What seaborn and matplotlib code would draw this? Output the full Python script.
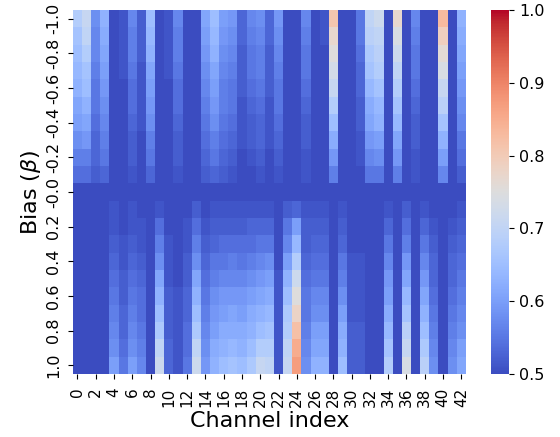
import numpy as np
import pandas as pd
import seaborn as sns
from matplotlib import pyplot as plt

# bias values (rows) and channel indices (columns)
bias = [-1.0, -0.9, -0.8, -0.7, -0.6, -0.5, -0.4, -0.3, -0.2, -0.1, -0.0,
        0.1, 0.2, 0.3, 0.4, 0.5, 0.6, 0.7, 0.8, 0.9, 1.0]
channels = list(range(43))

# score in percent, one list per channel, beta = -1.0 ... -0.1
neg_bias = [
    [68, 66, 65, 64, 63, 61, 60, 58, 56, 54],  # 0
    [71, 70, 68, 66, 65, 63, 61, 59, 56, 54],  # 1
    [58, 57, 57, 56, 55, 55, 54, 53, 53, 52],  # 2
    [63, 62, 61, 60, 59, 58, 57, 56, 55, 53],  # 3
    [50] * 10,                                 # 4
    [51, 51, 51, 51, 50, 50, 50, 50, 50, 50],  # 5
    [57, 56, 56, 55, 54, 54, 53, 52, 52, 51],  # 6
    [52, 52, 52, 51, 51, 51, 51, 50, 50, 50],  # 7
    [65, 64, 63, 61, 60, 59, 58, 56, 55, 53],  # 8
    [50] * 10,                                 # 9
    [51, 51, 51, 51, 50, 50, 50, 50, 50, 50],  # 10
    [57, 56, 56, 55, 54, 54, 53, 52, 52, 51],  # 11
    [50] * 10,                                 # 12
    [50] * 10,                                 # 13
    [61, 60, 59, 58, 57, 56, 55, 54, 53, 52],  # 14
    [65, 64, 63, 61, 60, 59, 58, 56, 55, 53],  # 15
    [60, 59, 58, 57, 56, 56, 55, 54, 53, 52],  # 16
    [59, 58, 57, 56, 55, 55, 54, 53, 52, 51],  # 17
    [53, 53, 52, 52, 52, 51, 51, 51, 50, 50],  # 18
    [57, 56, 55, 55, 54, 53, 52, 52, 51, 50],  # 19
    [58, 57, 56, 56, 55, 54, 53, 53, 52, 51],  # 20
    [53, 53, 52, 52, 52, 51, 51, 51, 50, 50],  # 21
    [59, 58, 57, 56, 55, 55, 54, 53, 52, 51],  # 22
    [50] * 10,                                 # 23
    [50] * 10,                                 # 24
    [57, 56, 55, 55, 54, 53, 52, 52, 51, 51],  # 25
    [50] * 10,                                 # 26
    [51, 51, 50, 50, 50, 50, 50, 50, 50, 50],  # 27
    [81, 77, 75, 73, 71, 68, 65, 62, 59, 56],  # 28
    [50] * 10,                                 # 29
    [50] * 10,                                 # 30
    [55, 55, 54, 53, 53, 52, 52, 51, 51, 50],  # 31
    [70, 69, 67, 66, 64, 62, 61, 59, 57, 55],  # 32
    [72, 70, 69, 68, 66, 64, 63, 60, 58, 55],  # 33
    [50] * 10,                                 # 34
    [77, 74, 72, 70, 68, 66, 64, 61, 59, 56],  # 35
    [50] * 10,                                 # 36
    [57, 56, 55, 55, 54, 53, 52, 52, 51, 51],  # 37
    [50] * 10,                                 # 38
    [50] * 10,                                 # 39
    [83, 79, 76, 74, 71, 69, 66, 63, 60, 57],  # 40
    [50] * 10,                                 # 41
    [63, 62, 61, 60, 59, 58, 57, 55, 54, 52],  # 42
]

# beta = -0.0
zero_bias = [50] * 43

# beta = 0.1 ... 1.0
pos_bias = [
    [50] * 10,                                 # 0
    [50] * 10,                                 # 1
    [50] * 10,                                 # 2
    [50] * 10,                                 # 3
    [51, 51, 52, 53, 54, 55, 56, 57, 58, 60],  # 4
    [50, 50, 51, 51, 52, 52, 53, 53, 54, 55],  # 5
    [51, 51, 52, 53, 54, 55, 56, 57, 58, 60],  # 6
    [50, 51, 51, 52, 53, 54, 54, 55, 56, 57],  # 7
    [50] * 10,                                 # 8
    [51, 54, 56, 58, 61, 63, 65, 67, 70, 72],  # 9
    [50, 50, 51, 51, 51, 52, 52, 52, 53, 53],  # 10
    [50, 50, 50, 50, 50, 51, 51, 51, 51, 51],  # 11
    [50, 51, 51, 52, 52, 53, 53, 54, 54, 55],  # 12
    [52, 54, 56, 58, 61, 63, 65, 67, 70, 72],  # 13
    [50, 51, 52, 53, 54, 55, 56, 57, 58, 59],  # 14
    [51, 52, 53, 55, 56, 58, 59, 60, 62, 63],  # 15
    [51, 52, 54, 55, 57, 59, 60, 62, 63, 65],  # 16
    [51, 52, 54, 56, 57, 59, 61, 62, 64, 66],  # 17
    [51, 52, 54, 55, 57, 59, 60, 62, 63, 65],  # 18
    [51, 53, 54, 56, 58, 60, 62, 63, 65, 67],  # 19
    [51, 53, 55, 57, 59, 61, 63, 65, 68, 71],  # 20
    [51, 53, 55, 58, 60, 62, 64, 66, 68, 70],  # 21
    [50, 50, 50, 50, 51, 51, 51, 51, 51, 51],  # 22
    [52, 55, 57, 60, 63, 65, 67, 68, 70, 71],  # 23
    [53, 60, 64, 68, 72, 75, 78, 82, 85, 87],  # 24
    [51, 52, 52, 53, 54, 55, 55, 56, 57, 58],  # 25
    [51, 52, 53, 54, 55, 57, 58, 60, 61, 63],  # 26
    [51, 52, 53, 54, 55, 57, 58, 60, 61, 63],  # 27
    [50] * 10,                                 # 28
    [51, 52, 53, 55, 56, 58, 60, 62, 63, 65],  # 29
    [50, 50, 50, 51, 51, 51, 51, 52, 52, 52],  # 30
    [50, 50, 50, 51, 51, 51, 51, 52, 52, 52],  # 31
    [50] * 10,                                 # 32
    [50] * 10,                                 # 33
    [51, 53, 55, 57, 59, 60, 62, 64, 66, 68],  # 34
    [50] * 10,                                 # 35
    [52, 54, 56, 59, 61, 64, 66, 69, 71, 74],  # 36
    [50] * 10,                                 # 37
    [51, 53, 55, 57, 59, 61, 63, 65, 67, 69],  # 38
    [50, 51, 52, 53, 53, 54, 55, 56, 57, 58],  # 39
    [50] * 10,                                 # 40
    [50, 51, 52, 53, 53, 54, 55, 56, 57, 58],  # 41
    [51, 52, 53, 54, 55, 56, 57, 58, 60, 61],  # 42
]

scores = np.vstack([np.array(neg_bias).T,
                    np.array(zero_bias)[None, :],
                    np.array(pos_bias).T]) / 100.0
df = pd.DataFrame(scores, index=bias, columns=channels)

fig = plt.figure(figsize=(5.6, 4.37), dpi=100)
ax = fig.add_axes([0.130, 0.144, 0.702, 0.833])
cax = fig.add_axes([0.877, 0.144, 0.032, 0.833])

sns.heatmap(df, ax=ax, cbar_ax=cax, cmap='coolwarm', vmin=0.5, vmax=1.0,
            xticklabels=2, yticklabels=2)

ax.set_xlabel('Channel index', fontsize=16, labelpad=3)
ax.set_ylabel(r'Bias ($\beta$)', fontsize=16, labelpad=2)
ax.tick_params(axis='x', labelsize=11, pad=6)
ax.tick_params(axis='y', labelsize=11.5, pad=5)
plt.setp(ax.get_xticklabels(), rotation=90)
plt.setp(ax.get_yticklabels(), rotation=90, va='center')
cax.tick_params(labelsize=11.5)

fig.savefig('out.png', dpi=100)
